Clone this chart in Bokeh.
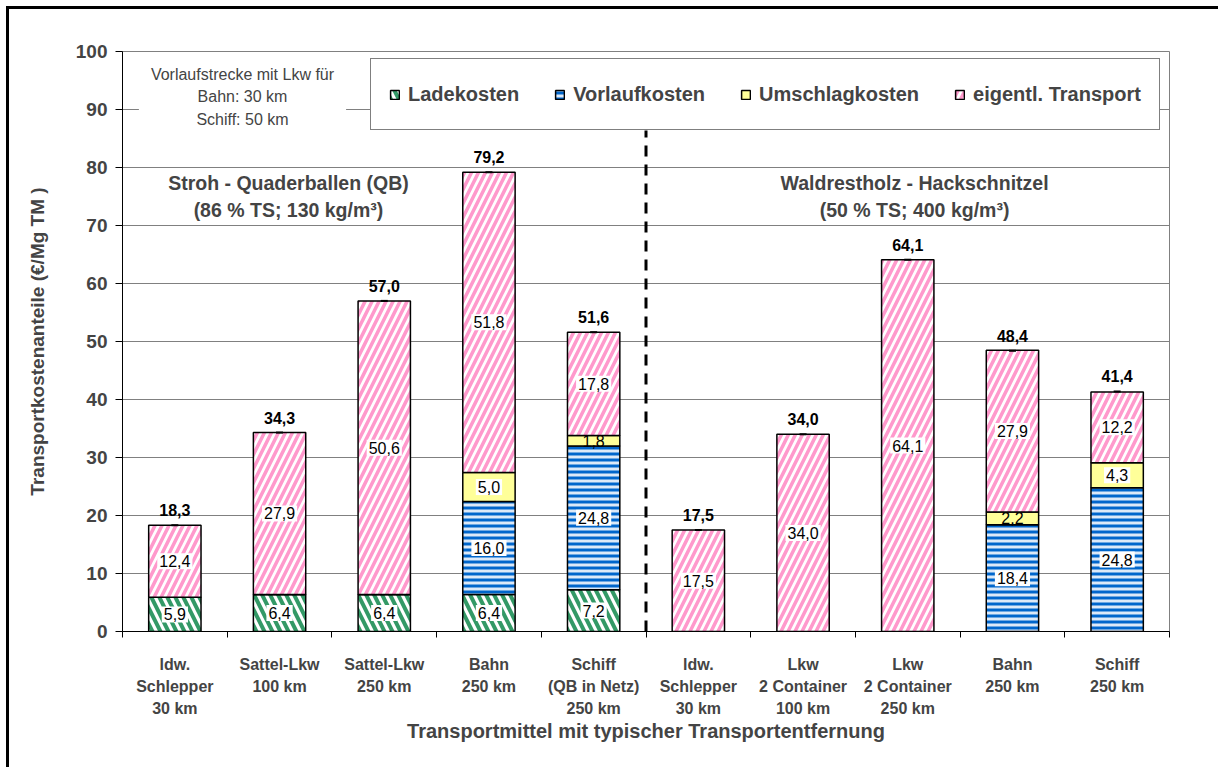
from bokeh.plotting import figure
from bokeh.models import Range1d, FixedTicker, ColumnDataSource, Label, Legend, LegendItem
from bokeh.core.properties import value
from bokeh.embed import file_html
from bokeh.resources import INLINE

# ---------------- data ----------------
categories = [
    "ldw.\nSchlepper\n30 km",
    "Sattel-Lkw\n100 km",
    "Sattel-Lkw\n250 km",
    "Bahn\n250 km",
    "Schiff\n(QB in Netz)\n250 km",
    "ldw.\nSchlepper\n30 km",
    "Lkw\n2 Container\n100 km",
    "Lkw\n2 Container\n250 km",
    "Bahn\n250 km",
    "Schiff\n250 km",
]
series_names = ["Ladekosten", "Vorlaufkosten", "Umschlagkosten", "eigentl. Transport"]
ladekosten = [5.9, 6.4, 6.4, 6.4, 7.2, 0, 0, 0, 0, 0]
vorlaufkosten = [0, 0, 0, 16.0, 24.8, 0, 0, 0, 18.4, 24.8]
umschlagkosten = [0, 0, 0, 5.0, 1.8, 0, 0, 0, 2.2, 4.3]
transport = [12.4, 27.9, 50.6, 51.8, 17.8, 17.5, 34.0, 64.1, 27.9, 12.2]
totals = [18.3, 34.3, 57.0, 79.2, 51.6, 17.5, 34.0, 64.1, 48.4, 41.4]
y_ticks = list(range(0, 101, 10))

FONT = "Liberation Sans"


def fmt(v):
    return f"{v:.1f}".replace(".", ",")


xs = list(range(1, len(categories) + 1))

p = figure(
    width=1218, height=767,
    x_range=Range1d(0.5, 10.5), y_range=Range1d(0, 100),
    output_backend="svg", toolbar_location=None,
    min_border_left=122, min_border_right=49, min_border_top=51, min_border_bottom=136,
)
p.background_fill_color = "white"
p.border_fill_color = None  # transparent: the page background provides the outer chart frame
p.outline_line_color = "#808080"
p.outline_line_width = 1

# grid
p.xgrid.grid_line_color = None
p.ygrid.grid_line_color = "#808080"
p.ygrid.grid_line_width = 1
p.ygrid.ticker = FixedTicker(ticks=y_ticks)

# y axis
p.yaxis.ticker = FixedTicker(ticks=y_ticks, minor_ticks=[])
p.yaxis.axis_label = "Transportkostenanteile (€/Mg TM )"
p.yaxis.axis_label_text_font = FONT
p.yaxis.axis_label_text_font_style = "bold"
p.yaxis.axis_label_text_font_size = "19px"
p.yaxis.axis_label_standoff = 25
p.yaxis.major_label_text_font = FONT
p.yaxis.major_label_text_font_style = "bold"
p.yaxis.major_label_text_font_size = "19px"
p.yaxis.major_label_standoff = 8
p.yaxis.major_tick_out = 7
p.yaxis.major_tick_in = 0
p.yaxis.axis_line_color = "black"
p.yaxis.major_tick_line_color = "black"

# x axis
p.xaxis.ticker = FixedTicker(ticks=xs, minor_ticks=[x + 0.5 for x in range(0, 11)])
p.xaxis.major_label_overrides = {x: c for x, c in zip(xs, categories)}
p.xaxis.axis_label = "Transportmittel mit typischer Transportentfernung"
p.xaxis.axis_label_text_font = FONT
p.xaxis.axis_label_text_font_style = "bold"
p.xaxis.axis_label_text_font_size = "20px"
p.xaxis.axis_label_standoff = 0
p.xaxis.major_label_text_font = FONT
p.xaxis.major_label_text_font_style = "bold"
p.xaxis.major_label_text_font_size = "16px"
p.xaxis.major_label_text_line_height = 1.3
p.xaxis.major_label_standoff = 18
p.xaxis.major_tick_out = 0
p.xaxis.major_tick_in = 0
p.xaxis.minor_tick_out = 6
p.xaxis.minor_tick_in = 0
p.xaxis.minor_tick_line_color = "black"
p.xaxis.axis_line_color = "black"

# ---------------- bars ----------------
series = [ladekosten, vorlaufkosten, umschlagkosten, transport]
styles = [
    dict(fill_color="white", hatch_pattern="left_diagonal_line", hatch_color="#339966",
         hatch_scale=16, hatch_weight=4),
    dict(fill_color="#dce9f8", hatch_pattern="horizontal_line", hatch_color="#0066CC",
         hatch_scale=6, hatch_weight=3),
    dict(fill_color="#FFFF99"),
    dict(fill_color="white", hatch_pattern="right_diagonal_line", hatch_color="#FF99CC",
         hatch_scale=14, hatch_weight=3.5),
]

bottom = [0.0] * len(xs)
legend_items = []
lab_big = dict(x=[], y=[], t=[])
lab_small = dict(x=[], y=[], t=[])
for name, vals, st in zip(series_names, series, styles):
    top = [b + v for b, v in zip(bottom, vals)]
    src = ColumnDataSource(dict(x=xs, bottom=bottom, top=top))
    r = p.vbar(x="x", bottom="bottom", top="top", width=0.5, source=src,
               line_color="black", line_width=1.5, **st)
    legend_items.append(LegendItem(label=name, renderers=[r]))
    for xi, b, v in zip(xs, bottom, vals):
        if v > 0:
            d = lab_big if v >= 3 else lab_small
            d["x"].append(xi)
            d["y"].append(b + v / 2)
            d["t"].append(fmt(v))
    bottom = top

p.text(x="x", y="y", text="t", source=ColumnDataSource(lab_big),
       text_font=value(FONT), text_font_size=value("16px"), text_color="black",
       text_align="center", text_baseline="middle",
       background_fill_color="white", padding=2)
p.text(x="x", y="y", text="t", source=ColumnDataSource(lab_small),
       text_font=value(FONT), text_font_size=value("16px"), text_color="black",
       text_align="center", text_baseline="middle")

# totals
tot_src = ColumnDataSource(dict(x=xs, y=totals, t=[fmt(v) for v in totals]))
p.scatter(x="x", y="y", source=tot_src, marker="dash", size=7, line_width=2, line_color="black")
p.text(x="x", y="y", text="t", source=tot_src,
       text_font=value(FONT), text_font_size=value("16px"), text_font_style="bold",
       text_color="black", text_align="center", text_baseline="bottom", y_offset=-9)

# divider
p.line(x=[5.5, 5.5], y=[0, 86.4], line_color="black", line_width=3, line_dash="11 8")

# annotations
p.add_layout(Label(x=1.646, y=92.2, text="Vorlaufstrecke mit Lkw für\nBahn: 30 km\nSchiff: 50 km",
                   text_font=FONT, text_font_size="16px", text_align="center",
                   text_baseline="middle", text_line_height=1.31,
                   background_fill_color="white", padding=12))
for gx, l1, l2 in [(2.085, "Stroh - Quaderballen (QB)", "(86 % TS; 130 kg/m³)"),
                   (8.065, "Waldrestholz - Hackschnitzel", "(50 % TS; 400 kg/m³)")]:
    p.add_layout(Label(x=gx, y=77.4, text=l1, text_font=FONT, text_font_size="19.5px",
                       text_font_style="bold", text_align="center", text_baseline="middle"))
    p.add_layout(Label(x=gx, y=72.6, text=l2, text_font=FONT, text_font_size="19.5px",
                       text_font_style="bold", text_align="center", text_baseline="middle"))

legend = Legend(items=legend_items, orientation="horizontal", location=(248, 501),
                label_text_font=FONT, label_text_font_size="20px", label_text_font_style="bold",
                glyph_width=11, glyph_height=11, label_standoff=8, spacing=35,
                padding=18, margin=0, label_height=34,
                border_line_color="black", border_line_width=1,
                background_fill_color="white", background_fill_alpha=1)
p.add_layout(legend)

html = file_html(p, INLINE)
frame_css = ("<style>body { background: "
             "linear-gradient(#000, #000) 6px 6px / 3px 761px no-repeat, "
             "linear-gradient(#000, #000) 6px 6px / 1212px 3px no-repeat, #fff; }</style>")
html = html.replace("</head>", frame_css + "</head>", 1)
open("out.html", "w").write(html)
